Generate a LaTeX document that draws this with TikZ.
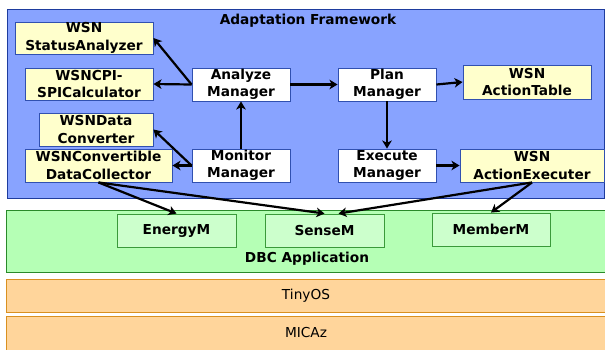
\documentclass[tikz,border=0pt]{standalone}
\usepackage{fontspec}
\setmainfont{DejaVu Sans}
\usetikzlibrary{arrows.meta}
\definecolor{frameblue}{HTML}{88A3FF}
\definecolor{frameedge}{HTML}{1E3C9E}
\definecolor{boxedge}{HTML}{3050B0}
\definecolor{paleyellow}{HTML}{FFFFCC}
\definecolor{appgreen}{HTML}{B5FFB5}
\definecolor{appedge}{HTML}{2A8A2A}
\definecolor{modgreen}{HTML}{CCFFCC}
\definecolor{modedge}{HTML}{3A9A3A}
\definecolor{layerfill}{HTML}{FFD59B}
\definecolor{layeredge}{HTML}{D99020}
\tikzset{
  txt/.style={font=\fontsize{13.7}{17.3}\selectfont\bfseries, align=center, inner sep=0pt},
  framebox/.style={draw=frameedge, fill=frameblue, line width=1pt, inner sep=0pt},
  compbox/.style={txt, draw=boxedge, fill=paleyellow, line width=0.9pt},
  mgrbox/.style={txt, draw=boxedge, fill=white, line width=0.9pt},
  appbox/.style={draw=appedge, fill=appgreen, line width=0.9pt, inner sep=0pt},
  modbox/.style={txt, draw=modedge, fill=modgreen, line width=0.9pt},
  layerbox/.style={draw=layeredge, fill=layerfill, line width=0.9pt, inner sep=0pt,
    font=\fontsize{13.7}{17.3}\selectfont},
  arr/.style={-{Stealth[length=8pt,width=9.5pt,inset=2.2pt]}, line width=2.2pt, black},
}
\begin{document}
\begin{tikzpicture}[x=1pt,y=-1pt]
\useasboundingbox (0,0) rectangle (605,349);

% Adaptation framework
\node[framebox, minimum width=597, minimum height=189] (fw) at (305.5,103.5) {};
\node[txt, anchor=base] (fwtitle) at (308,24.5) {Adaptation Framework};

\node[compbox, minimum width=138, minimum height=32] (sa) at (84,38) {WSN\\StatusAnalyzer};
\node[compbox, minimum width=128, minimum height=32] (cpi) at (89,84) {WSNCPI-\\SPICalculator};
\node[compbox, minimum width=114, minimum height=33] (dconv) at (96,129.5) {WSNData\\Converter};
\node[compbox, minimum width=147, minimum height=33] (coll) at (98.5,165.5) {WSNConvertible\\DataCollector};

\node[mgrbox, minimum width=98, minimum height=33] (am) at (241,84.5) {Analyze\\Manager};
\node[mgrbox, minimum width=98, minimum height=33] (mm) at (241,165.5) {Monitor\\Manager};
\node[mgrbox, minimum width=98, minimum height=33] (pm) at (387,84.5) {Plan\\Manager};
\node[mgrbox, minimum width=98, minimum height=33] (exm) at (387,165.5) {Execute\\Manager};

\node[compbox, minimum width=128, minimum height=34] (atab) at (527,82) {WSN\\ActionTable};
\node[compbox, minimum width=144, minimum height=33] (aex) at (532,165.5) {WSN\\ActionExecuter};

% DBC application (runs past the right edge)
\node[appbox, minimum width=603, minimum height=62] (app) at (307.5,241) {};
\node[modbox, minimum width=119, minimum height=33] (energy) at (176.5,230.5) {EnergyM};
\node[modbox, minimum width=119, minimum height=33] (sense) at (324.5,230.5) {SenseM};
\node[modbox, minimum width=118, minimum height=33] (member) at (491,229.5) {MemberM};
\node[txt, anchor=base] (apptitle) at (307,262) {DBC Application};

% Lower layers
\node[layerbox, minimum width=603, minimum height=33] (os) at (307.5,295.5) {};
\node[layerbox, minimum width=603, minimum height=34] (hw) at (307.5,333) {};
\node[font=\fontsize{13.7}{17.3}\selectfont] (ostext) at (306,295.5) {TinyOS};
\node[font=\fontsize{13.7}{17.3}\selectfont] (hwtext) at (306,333) {MICAz};

% Control flow
\draw[arr] (am.west) -- (sa.east);
\draw[arr] (am.west) -- (cpi.east);
\draw[arr] (mm.west) -- (dconv.east);
\draw[arr] (mm.west) -- (coll.east);
\draw[arr] (mm.north) -- (am.south);
\draw[arr] (am.east) -- (pm.west);
\draw[arr] (pm.east) -- (atab.west);
\draw[arr] (pm.south) -- (exm.north);
\draw[arr] (exm.east) -- (aex.west);

% Links into the application modules
\draw[arr] (coll.south) -- (energy.north);
\draw[arr] (coll.south) -- (sense.north);
\draw[arr] (aex.south) -- ([xshift=14pt]sense.north);
\draw[arr] (aex.south) -- (member.north);
\end{tikzpicture}
\end{document}
